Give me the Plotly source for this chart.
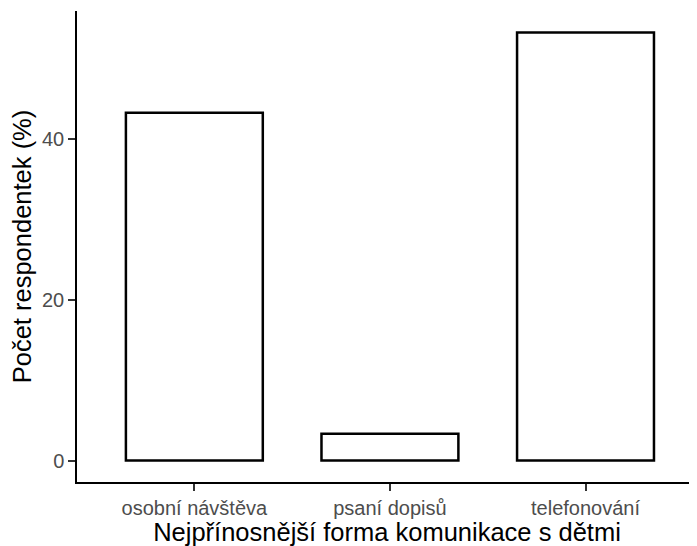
import plotly.graph_objects as go

categories = ["osobní návštěva", "psaní dopisů", "telefonování"]
values = [43.33, 3.33, 53.33]
y_ticks = [0, 20, 40]
x_title = "Nejpřínosnější forma komunikace s dětmi"
y_title = "Počet respondentek (%)"

font = "Liberation Sans, Arial, sans-serif"

fig = go.Figure(go.Bar(
    x=categories, y=values, width=0.7,
    marker=dict(color="white", line=dict(color="black", width=2.5)),
))

# page has an 8px body margin, so the figure is sized/offset to compensate
fig.update_layout(
    width=689, height=538,
    margin=dict(l=69, r=0, t=3, b=64),
    plot_bgcolor="white", paper_bgcolor="white",
    showlegend=False,
    font=dict(family=font),
)
fig.update_xaxes(
    type="category", range=[-0.6, 2.57],
    showline=True, linecolor="black", linewidth=1.5,
    ticks="outside", ticklen=7, tickcolor="#333333", tickwidth=1.5,
    tickfont=dict(size=20, color="#4D4D4D"),
    showgrid=False, zeroline=False,
    title=dict(text=x_title, font=dict(size=25.5, color="black"), standoff=1),
    automargin=False,
)
fig.update_yaxes(
    range=[-2.667, 56.0], tickvals=y_ticks,
    showline=True, linecolor="black", linewidth=1.5,
    ticks="outside", ticklen=7, tickcolor="#333333", tickwidth=1.5,
    tickfont=dict(size=20, color="#4D4D4D"),
    showgrid=False, zeroline=False,
    title=dict(text=y_title, font=dict(size=25.5, color="black"), standoff=5),
    automargin=False,
)

fig.write_html("out.html")
